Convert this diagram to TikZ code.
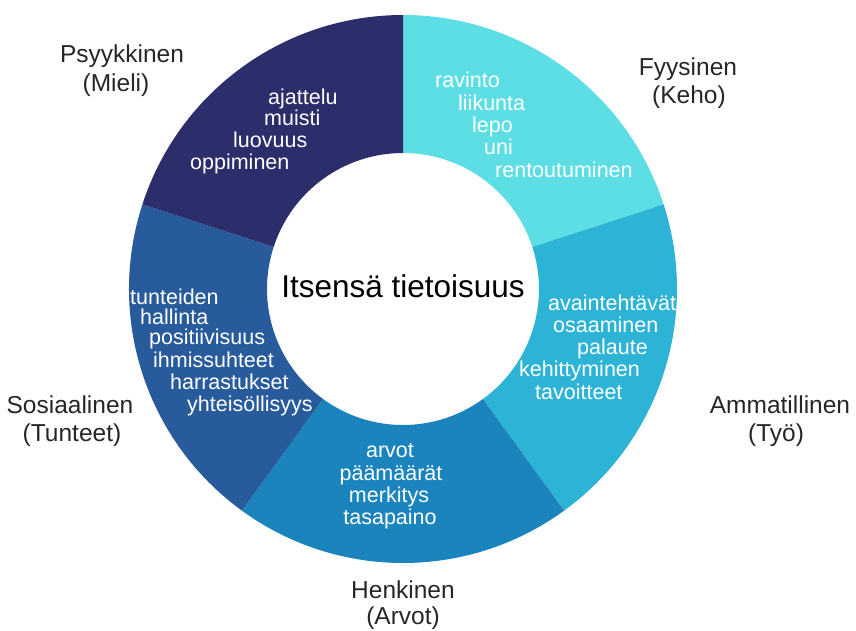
\documentclass[tikz,border=0pt]{standalone}
\usepackage{fontspec}
\setmainfont{Liberation Sans}
\usepackage{tikz}

\definecolor{cpsy}{HTML}{2C2D6B}
\definecolor{cfyy}{HTML}{5CDEE4}
\definecolor{camm}{HTML}{2DB3D6}
\definecolor{chen}{HTML}{1B84BC}
\definecolor{csos}{HTML}{285B9C}

\tikzset{
  item/.style={text=white, font=\fontsize{21.5}{22}\selectfont, inner sep=0pt, anchor=base west},
  lbl/.style={text=black!85, font=\fontsize{24.5}{28}\selectfont, inner sep=0pt, anchor=base}
}

\begin{document}
\begin{tikzpicture}[x=1pt,y=1pt]
    \useasboundingbox (-403,-341) rectangle (453,289);

    \fill[cfyy] (90:274pt) arc[start angle=90, end angle=18, radius=274pt]
      -- (18:136pt) arc[start angle=18, end angle=90, radius=136pt] -- cycle;
    \fill[camm] (18:274pt) arc[start angle=18, end angle=-54, radius=274pt]
      -- (-54:136pt) arc[start angle=-54, end angle=18, radius=136pt] -- cycle;
    \fill[chen] (-54:274pt) arc[start angle=-54, end angle=-126, radius=274pt]
      -- (-126:136pt) arc[start angle=-126, end angle=-54, radius=136pt] -- cycle;
    \fill[csos] (-126:274pt) arc[start angle=-126, end angle=-198, radius=274pt]
      -- (-198:136pt) arc[start angle=-198, end angle=-126, radius=136pt] -- cycle;
    \fill[cpsy] (162:274pt) arc[start angle=162, end angle=90, radius=274pt]
      -- (90:136pt) arc[start angle=90, end angle=162, radius=136pt] -- cycle;

    \node[font=\fontsize{31.5}{34}\selectfont, inner sep=0pt, anchor=base] (itse) at (0,-8) {Itsensä tietoisuus};

    \node[item] (psy1) at (-135,185) {ajattelu};
    \node[item] (psy2) at (-139,164) {muisti};
    \node[item] (psy3) at (-170,142) {luovuus};
    \node[item] (psy4) at (-213,120) {oppiminen};

    \node[item] (fyy1) at (32,202) {ravinto};
    \node[item] (fyy2) at (55,179) {liikunta};
    \node[item] (fyy3) at (69,157) {lepo};
    \node[item] (fyy4) at (81,135) {uni};
    \node[item] (fyy5) at (92,112) {rentoutuminen};

    \node[item] (amm1) at (145,-21) {avaintehtävät};
    \node[item] (amm2) at (150,-43) {osaaminen};
    \node[item] (amm3) at (174,-65) {palaute};
    \node[item] (amm4) at (116,-87) {kehittyminen};
    \node[item] (amm5) at (132,-110) {tavoitteet};

    \node[item, anchor=base] (hen1) at (-13,-168) {arvot};
    \node[item, anchor=base] (hen2) at (-12,-191) {päämäärät};
    \node[item, anchor=base] (hen3) at (-14,-213) {merkitys};
    \node[item, anchor=base] (hen4) at (-13,-235) {tasapaino};

    \node[item] (sos1) at (-273,-15) {tunteiden};
    \node[item] (sos2) at (-263,-35) {hallinta};
    \node[item] (sos3) at (-254,-55) {positiivisuus};
    \node[item] (sos4) at (-250,-78) {ihmissuhteet};
    \node[item] (sos5) at (-233,-100) {harrastukset};
    \node[item] (sos6) at (-216,-122) {yhteisöllisyys};

    \node[lbl] (lpsy)  at (-281,227)  {Psyykkinen};
    \node[lbl] (lpsy2) at (-287,198)  {(Mieli)};
    \node[lbl] (lfyy)  at (285,214)   {Fyysinen};
    \node[lbl] (lfyy2) at (286,186)   {(Keho)};
    \node[lbl] (lamm)  at (377,-124)  {Ammatillinen};
    \node[lbl] (lamm2) at (373,-152)  {(Työ)};
    \node[lbl] (lhen)  at (0,-309)    {Henkinen};
    \node[lbl] (lhen2) at (0,-335)    {(Arvot)};
    \node[lbl] (lsos)  at (-333,-124) {Sosiaalinen};
    \node[lbl] (lsos2) at (-331,-152) {(Tunteet)};
\end{tikzpicture}
\end{document}
